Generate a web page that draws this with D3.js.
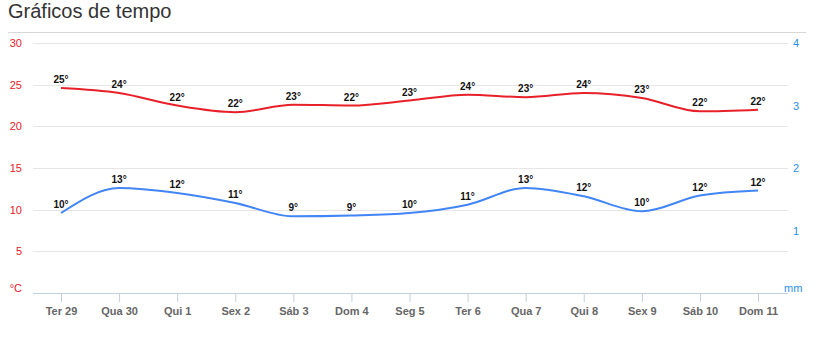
<!DOCTYPE html>
<html><head><meta charset="utf-8">
<script src="https://cdn.jsdelivr.net/npm/d3@7"></script>
<style>body{margin:0;background:#fff;font-family:"Liberation Sans",Arial,sans-serif}</style>
</head><body><svg id="c" width="816" height="340"></svg>
<script>
const categories = ["Ter 29","Qua 30","Qui 1","Sex 2","Sáb 3","Dom 4","Seg 5","Ter 6","Qua 7","Qui 8","Sex 9","Sáb 10","Dom 11"];
const highs = [24.6,24.0,22.5,21.7,22.6,22.5,23.1,23.8,23.5,24.0,23.4,21.8,22.0];
const lows  = [9.6,12.6,12.0,10.8,9.2,9.3,9.6,10.6,12.6,11.6,9.8,11.7,12.3];
const highLabels = ["25°","24°","22°","22°","23°","22°","23°","24°","23°","24°","23°","22°","22°"];
const lowLabels  = ["10°","13°","12°","11°","9°","9°","10°","11°","13°","12°","10°","12°","12°"];
const tempTicks = [5,10,15,20,25,30];
const rainTicks = [1,2,3,4];

const svg = d3.select("#c");
const pL = 33, pR = 788, pT = 43, pB = 293;
const x = d3.scalePoint().domain(categories).range([61, 758]);
const yT = d3.scaleLinear().domain([0,30]).range([pB, pT]);
const yR = d3.scaleLinear().domain([0,4]).range([pB, pT]);

svg.append("text").attr("x",8).attr("y",18).attr("font-size","20px").attr("fill","#333").text("Gráficos de tempo");
svg.append("line").attr("x1",8).attr("x2",806).attr("y1",32.5).attr("y2",32.5).attr("stroke","#d8d8d8");

// grid
svg.append("g").selectAll("line").data(tempTicks).join("line")
  .attr("x1",pL).attr("x2",pR).attr("y1",d=>Math.round(yT(d))+0.5).attr("y2",d=>Math.round(yT(d))+0.5)
  .attr("stroke","#e6e6e6");

// left axis labels
const gl = svg.append("g").attr("font-size","11px").attr("fill","#e8202a").attr("text-anchor","end");
gl.selectAll("text").data(tempTicks).join("text").attr("x",22).attr("y",d=>yT(d)+4).text(d=>d);
gl.append("text").attr("x",22).attr("y",yT(0)-1).text("°C");

// right axis labels
const gr = svg.append("g").attr("font-size","11px").attr("fill","#2b8fe8").attr("text-anchor","start");
gr.selectAll("text").data(rainTicks).join("text").attr("x",793).attr("y",d=>yR(d)+4).text(d=>d);
gr.append("text").attr("x",784).attr("y",yR(0)-1).text("mm");

// x axis
const xa = svg.append("g").attr("transform",`translate(0,${pB})`).call(d3.axisBottom(x).tickSize(9).tickPadding(5).tickSizeOuter(0));
xa.select(".domain").remove();
xa.insert("line",":first-child").attr("x1",pL).attr("x2",pR).attr("y1",0.5).attr("y2",0.5).attr("stroke","#c0d0e0");
xa.selectAll(".tick line").attr("stroke","#c0d0e0");
xa.selectAll(".tick text").attr("fill","#666").attr("font-size","11px").attr("font-weight","bold").attr("font-family","'Liberation Sans',Arial,sans-serif");

const line = d3.line().x((d,i)=>x(categories[i])).y(d=>yT(d)).curve(d3.curveMonotoneX);
svg.append("path").datum(highs).attr("d",line).attr("fill","none").attr("stroke","#e8202a").attr("stroke-width",2);
svg.append("path").datum(lows).attr("d",line).attr("fill","none").attr("stroke","#4285f4").attr("stroke-width",2);

const lab = svg.append("g").attr("font-size","10px").attr("font-weight","bold").attr("fill","#111").attr("text-anchor","middle");
lab.selectAll(".h").data(highs).join("text").attr("class","h").attr("x",(d,i)=>x(categories[i])).attr("y",d=>yT(d)-5).text((d,i)=>highLabels[i]);
lab.selectAll(".l").data(lows).join("text").attr("class","l").attr("x",(d,i)=>x(categories[i])).attr("y",d=>yT(d)-5).text((d,i)=>lowLabels[i]);
</script></body></html>
